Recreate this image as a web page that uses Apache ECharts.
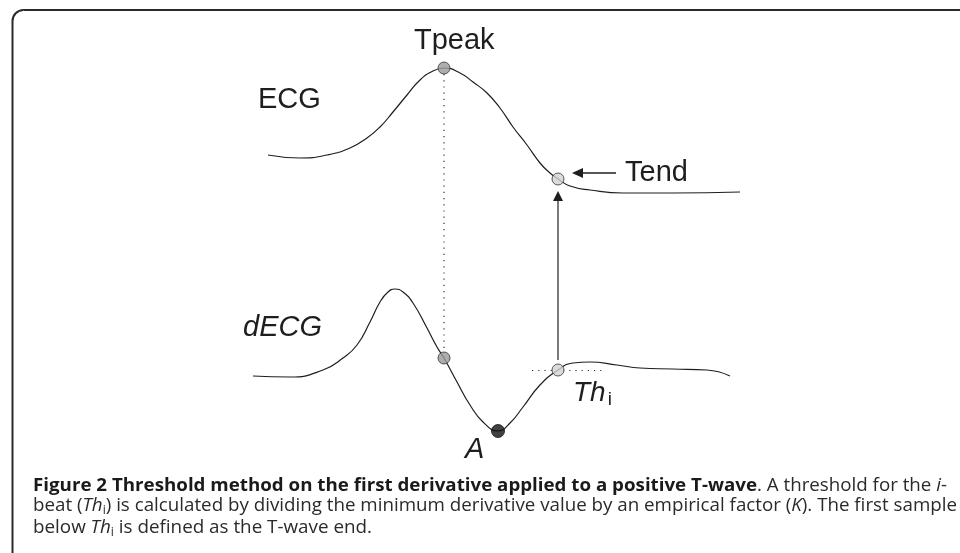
<!DOCTYPE html>
<html><head><meta charset="utf-8">
<script src="https://cdn.jsdelivr.net/npm/echarts@6/dist/echarts.min.js"></script>
<style>html,body{margin:0;padding:0;background:#fff}#c{width:960px;height:553px}</style>
</head><body><div id="c"></div>
<script>
// ---- ECG (time in ms, amplitude in mV) ----
const ecgTime = [18,50,77,100,117,130,143,157,170,183,194,210,223,237,250,263,277,290,300,308,320,340,373,423,490];
const ecgAmp  = [0.45,0.42,0.45,0.52,0.62,0.73,0.88,1.05,1.20,1.29,1.32,1.27,1.18,1.07,0.92,0.73,0.55,0.37,0.27,0.21,0.14,0.10,0.07,0.07,0.08];
// ---- first derivative dECG ----
const dTime = [3,40,73,93,107,120,130,138,145,153,163,177,187,194,207,220,233,248,260,273,290,308,323,340,367,390,423,457,480];
const dVal  = [-0.09,-0.10,-0.03,0.09,0.22,0.45,0.65,0.75,0.78,0.75,0.64,0.39,0.20,0.09,-0.15,-0.38,-0.55,-0.64,-0.56,-0.40,-0.18,-0.03,0.04,0.05,0.02,-0.01,-0.02,-0.03,-0.09];
// ---- marked points ----
const ecgMarkT = [194, 308];          // Tpeak, Tend
const ecgMarkA = [1.32, 0.21];
const dMarkT = [194, 248, 308];       // at Tpeak, A (minimum), Th_i crossing
const dMarkV = [0.09, -0.64, -0.03];
const thValue = -0.03;                // threshold Th_i
const thSpan = [282, 355];
// ---- labels ----
const lblECG = 'ECG', lbldECG = 'dECG', lblTpeak = 'Tpeak', lblTend = 'Tend', lblA = 'A', lblTh = 'Th', lblSub = 'i';
const captionLines = [
  [['Figure 2 Threshold method on the first derivative applied to a positive T-wave','b'],['. A threshold for the ','n'],['i','it'],['-','n']],
  [['beat (','n'],['Th','it'],['i','sub'],[') is calculated by dividing the minimum derivative value by an empirical factor (','n'],['K','it'],['). The first sample','n']],
  [['below ','n'],['Th','it'],['i','sub'],[' is defined as the T-wave end.','n']]
];

const chart = echarts.init(document.getElementById('c'), null, {renderer:'canvas'});
const ink = '#1e1e1e';
chart.setOption({
  animation:false,
  grid:[{left:0,right:0,top:0,height:200},{left:0,right:0,top:267,height:200}],
  xAxis:[{type:'value',gridIndex:0,min:-250,max:710,show:false},{type:'value',gridIndex:1,min:-250,max:710,show:false}],
  yAxis:[{type:'value',gridIndex:0,min:0,max:2,show:false},{type:'value',gridIndex:1,min:-1,max:1,show:false}],
  series:[
    {type:'line',xAxisIndex:0,yAxisIndex:0,data:ecgTime.map((t,i)=>[t,ecgAmp[i]]),smooth:0.5,symbol:'none',lineStyle:{color:ink,width:1.2},z:2},
    {type:'line',xAxisIndex:1,yAxisIndex:1,data:dTime.map((t,i)=>[t,dVal[i]]),smooth:0.5,symbol:'none',lineStyle:{color:ink,width:1.2},z:2,
      markLine:{silent:true,symbol:'none',label:{show:false},lineStyle:{color:'#333',type:[1.2,5],width:1.2},
        data:[[{coord:[thSpan[0],thValue]},{coord:[thSpan[1],thValue]}]]}},
    {type:'scatter',xAxisIndex:0,yAxisIndex:0,symbolSize:12,z:5,
      itemStyle:{borderColor:'#333',borderWidth:1},
      data:ecgMarkT.map((t,i)=>({value:[t,ecgMarkA[i]],itemStyle:{color:['#9a9a9a','#d2d2d2'][i]}}))},
    {type:'scatter',xAxisIndex:1,yAxisIndex:1,symbolSize:12,z:5,
      itemStyle:{borderColor:'#333',borderWidth:1},
      data:dMarkT.map((t,i)=>({value:[t,dMarkV[i]],symbolSize:[12,13,12][i],itemStyle:{color:['#9a9a9a','#111','#d2d2d2'][i],borderColor:['#333','#111','#333'][i]}}))}
  ]
});

const pPeak = chart.convertToPixel({gridIndex:0},[ecgMarkT[0],ecgMarkA[0]]);
const pEnd  = chart.convertToPixel({gridIndex:0},[ecgMarkT[1],ecgMarkA[1]]);
const pD    = chart.convertToPixel({gridIndex:1},[dMarkT[0],dMarkV[0]]);
const pTh   = chart.convertToPixel({gridIndex:1},[dMarkT[2],dMarkV[2]]);

// caption measurement
const capFam = '"Open Sans"', capSize = 18.5;
const richStyles = {
  b:{fontFamily:capFam,fontSize:capSize,fontWeight:'bold',fill:'#1a1a1a',lineHeight:22},
  n:{fontFamily:capFam,fontSize:capSize,fill:'#2a2a2a',lineHeight:22},
  it:{fontFamily:capFam,fontSize:capSize,fontStyle:'italic',fill:'#2a2a2a',lineHeight:22},
  sub:{fontFamily:capFam,fontSize:12,fill:'#2a2a2a',lineHeight:14,verticalAlign:'bottom'}
};
const cv = document.createElement('canvas').getContext('2d');
function measure(txt, s){
  cv.font = (s.fontStyle||'normal')+' '+(s.fontWeight||'normal')+' '+s.fontSize+'px '+s.fontFamily;
  return cv.measureText(txt).width;
}
const capTargets = [914, 924, 339];
const capBase = [491, 511.5, 533];
const capEls = captionLines.map((segs, li)=>{
  const w = segs.reduce((a,s)=>a+measure(s[0],richStyles[s[1]]),0);
  const txt = segs.map(s=>'{'+s[1]+'|'+s[0]+'}').join('');
  return {type:'text',x:33,y:capBase[li]-5.5,scaleX:capTargets[li]/w,z:10,
    style:{text:txt,rich:richStyles,fontFamily:capFam,fontSize:capSize,verticalAlign:'middle',align:'left'}};
});

const lf = '"Liberation Sans", Arial, sans-serif';
function label(txt,x,yBase,italic,size){
  size = size||29;
  return {type:'text',x:x,y:yBase-0.31*size,z:10,style:{text:txt,fontFamily:lf,fontSize:size,fontStyle:italic?'italic':'normal',fill:'#1e1e1e',verticalAlign:'middle',align:'left'}};
}
const thW = measure(lblTh,{fontStyle:'italic',fontSize:28,fontFamily:lf});
const gx = pEnd[0];
const vTip = pEnd[1]+12;
const hTipX = pEnd[0]+14, hY = pEnd[1]-6;

chart.setOption({graphic:{elements:[
  {type:'rect',shape:{x:12.5,y:10,width:1200,height:800,r:[11,0,0,0]},style:{fill:'none',stroke:'#2a2a2a',lineWidth:2}},
  {type:'line',shape:{x1:pPeak[0],y1:pPeak[1]+6,x2:pD[0],y2:pD[1]-6},style:{stroke:'#333',lineWidth:1.2,lineDash:[1.2,5]}},
  {type:'line',shape:{x1:pTh[0],y1:pTh[1]-10,x2:gx,y2:vTip+8},style:{stroke:'#7a7a7a',lineWidth:2}},
  {type:'polygon',shape:{points:[[gx,vTip],[gx-5,vTip+10],[gx+5,vTip+10]]},style:{fill:'#1e1e1e'}},
  {type:'line',shape:{x1:hTipX+8,y1:hY,x2:hTipX+44,y2:hY},style:{stroke:'#1e1e1e',lineWidth:1.5}},
  {type:'polygon',shape:{points:[[hTipX,hY],[hTipX+11,hY-5],[hTipX+11,hY+5]]},style:{fill:'#1e1e1e'}},
  label(lblTpeak,414,50,false),
  label(lblECG,258,109,false),
  label(lblTend,625,182,false),
  label(lbldECG,243,337,true),
  label(lblA,465,459,true),
  label(lblTh,573,402,true,28),
  label(lblSub,573+thW+2,406,false,19)
].concat(capEls)}});
</script></body></html>
